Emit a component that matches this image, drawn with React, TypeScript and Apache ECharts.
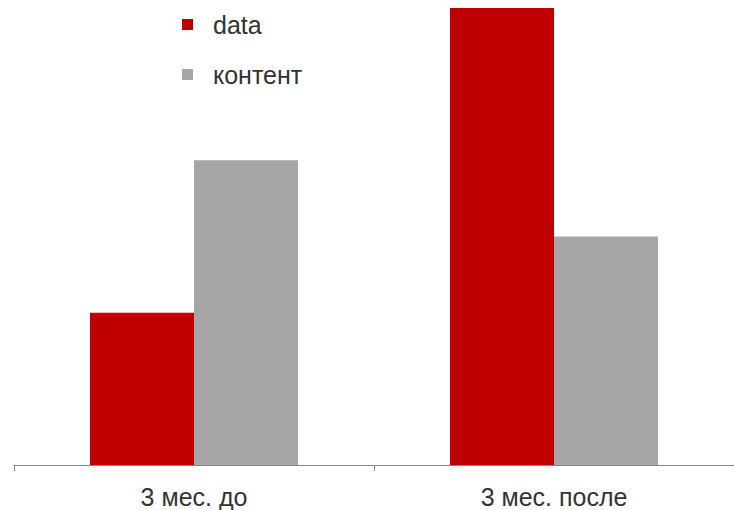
import React, { useEffect, useRef } from "react";
import * as echarts from "echarts";

const categories = ["3 мес. до", "3 мес. после"];
const dataValues = [1, 3];
const contentValues = [2, 1.5];
const seriesNames = ["data", "контент"];

export default function App() {
  const ref = useRef<HTMLDivElement>(null);
  useEffect(() => {
    document.body.style.margin = "0";
    document.body.style.overflow = "hidden";
    const chart = echarts.init(ref.current!, undefined, { renderer: "svg" });
    chart.setOption({
      animation: false,
      textStyle: { fontFamily: "Liberation Sans, Arial, sans-serif" },
      legend: {
        orient: "vertical",
        left: 177,
        top: 7,
        itemWidth: 11,
        itemHeight: 11,
        itemGap: 25,
        icon: "rect",
        textStyle: { fontSize: 25, color: "#333", padding: [0, 0, 0, 15] },
        data: seriesNames,
      },
      grid: { left: 14, right: -4, top: 8, bottom: 45 },
      xAxis: {
        type: "category",
        data: categories,
        axisLine: { lineStyle: { color: "#888", width: 1 } },
        axisTick: { show: true, length: 6, lineStyle: { color: "#888" } },
        axisLabel: { fontSize: 25, color: "#333", margin: 19 },
      },
      yAxis: { type: "value", min: 0, max: 3, show: false, splitLine: { show: false } },
      series: [
        { name: seriesNames[0], type: "bar", data: dataValues, barWidth: 104, barGap: "0%", itemStyle: { color: "#C00000" } },
        { name: seriesNames[1], type: "bar", data: contentValues, barWidth: 104, barGap: "0%", itemStyle: { color: "#A6A6A6" } },
      ],
    });
    return () => chart.dispose();
  }, []);
  return <div ref={ref} style={{ position: "absolute", left: 0, top: 0, width: 734, height: 510 }} />;
}
